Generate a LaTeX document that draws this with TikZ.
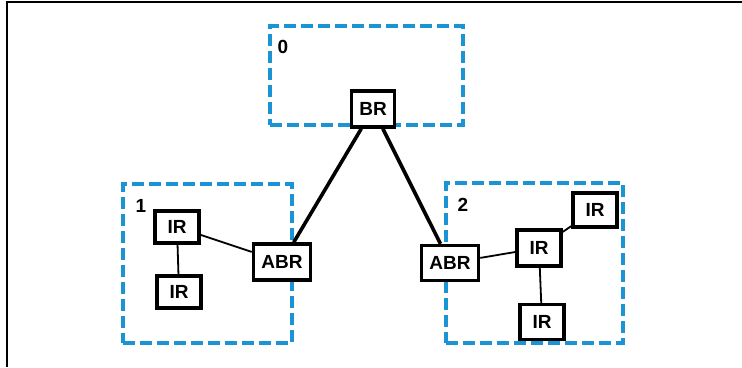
\documentclass[tikz,border=0pt]{standalone}
\usepackage{fontspec}
\setmainfont{Liberation Sans}
\usetikzlibrary{positioning, backgrounds}
\definecolor{areaBlue}{RGB}{27,148,214}

\begin{document}
\begin{tikzpicture}[
  x=1pt, y=-1pt,
  router/.style={
    rectangle,
    draw=black,
    line width=3.4pt,
    fill=white,
    inner xsep=8pt,
    inner ysep=4pt,
    minimum width=44pt,
    minimum height=32pt,
    font=\fontsize{19}{21}\selectfont\bfseries
  },
  area/.style={
    rectangle,
    draw=areaBlue,
    line width=3.4pt,
    dash pattern=on 12pt off 5pt,
    inner sep=0pt
  },
  arealabel/.style={
    inner sep=0pt,
    font=\fontsize{19}{21}\selectfont\bfseries
  },
  trunk/.style={line width=3.6pt},
  link/.style={line width=1.8pt},
]

\useasboundingbox (0,0) rectangle (742,367);

% outer frame
\draw[line width=2.6pt] (742,2) -- (7,2) -- (7,367);

% routers
\node[router, minimum width=42pt, minimum height=36pt] (br) at (373,109) {BR};

\node[router, minimum height=36pt] (abrl) at (282,262) {ABR};
\node[router] (irla) at (177,227) {IR};
\node[router] (irlb) at (179,292) {IR};

\node[router, minimum height=35pt] (abrr) at (450,263) {ABR};
\node[router, minimum height=36pt] (irrm) at (539,248) {IR};
\node[router, minimum height=34pt] (irrt) at (595,210) {IR};
\node[router, minimum height=35pt] (irrb) at (542,322) {IR};

% area labels
\node[arealabel] (lbl0) at (283,47) {0};
\node[arealabel] (lbl1) at (141,206) {1};
\node[arealabel] (lbl2) at (463,205) {2};

\begin{scope}[on background layer]
% areas
\node[area, minimum width=193pt, minimum height=99pt] (area0) at (366.5,75.5) {};
\node[area, minimum width=169pt, minimum height=159pt] (area1) at (207.5,263.5) {};
\node[area, minimum width=177pt, minimum height=160pt] (area2) at (534.5,263) {};

% links
\draw[trunk] (br) -- (abrl);
\draw[trunk] (br) -- (abrr);
\draw[link] (irla) -- (abrl);
\draw[link] (irla) -- (irlb);
\draw[link] (abrr) -- (irrm);
\draw[link] (irrm) -- (irrt);
\draw[link] (irrm) -- (irrb);
\end{scope}

\end{tikzpicture}
\end{document}
